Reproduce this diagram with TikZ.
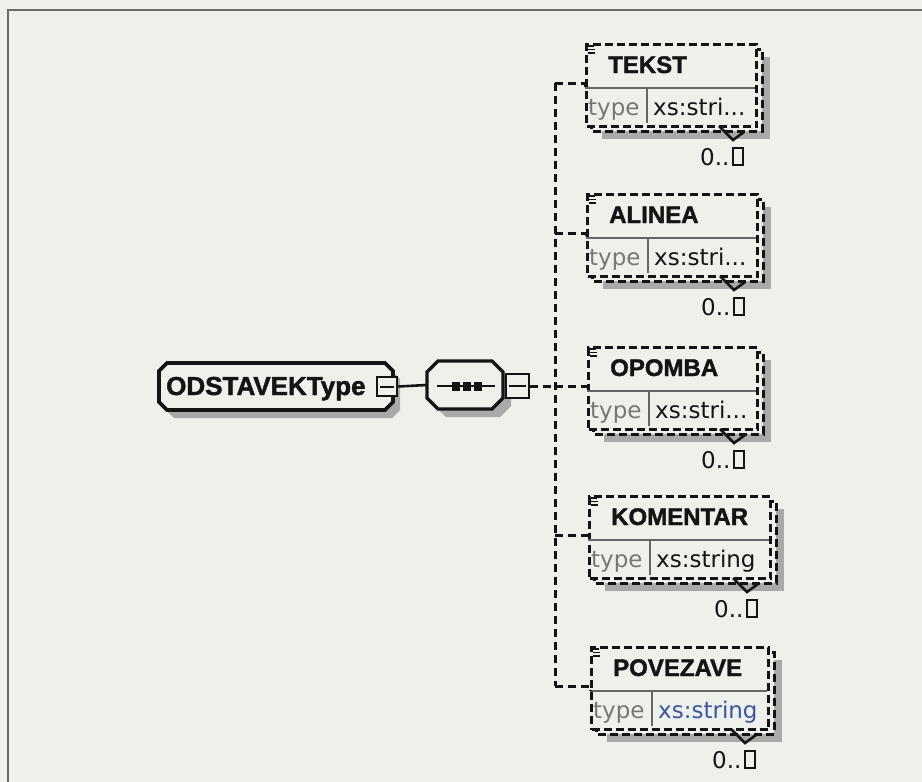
\documentclass[tikz,border=0pt]{standalone}
\usepackage{fontspec}
\setmainfont{Liberation Sans}[BoldFeatures={FakeBold=1.6}]
\newfontfamily\dvfont{DejaVu Sans}
\definecolor{bgc}{HTML}{EEF0EA}
\definecolor{shadowc}{HTML}{A8AAA7}
\definecolor{framec}{HTML}{6A6C69}
\definecolor{typegray}{HTML}{767876}
\definecolor{typeblue}{HTML}{3A55A8}
\definecolor{inkc}{HTML}{141414}

% octagon: #1 options, #2 x1, #3 y1, #4 x2, #5 y2, #6 chamfer
\newcommand\octo[6]{%
  \path[#1] (#2+#6,#3) -- (#4-#6,#3) -- (#4,#3+#6) -- (#4,#5-#6) -- (#4-#6,#5)
    -- (#2+#6,#5) -- (#2,#5-#6) -- (#2,#3+#6) -- cycle;
}

% #1 id, #2 left, #3 top, #4 width, #5 name, #6 type text, #7 type colour
\newcommand\elbox[7]{%
  \fill[shadowc] (#2+17,#3+14) rectangle (#2+#4+15,#3+96);
  \draw[dashbox, fill=bgc] (#2+6,#3+6) rectangle (#2+#4+7,#3+88);
  \node[frontbox, minimum width=#4pt, minimum height=82pt, anchor=north west] (#1) at (#2,#3) {};
  \draw[icon] (#2+3,#3+3) -- (#2+9,#3+3);
  \draw[icon] (#2+3,#3+6.5) -- (#2+10,#3+6.5);
  \draw[icon] (#2+3,#3+10) -- (#2+10,#3+10);
  \node[namefont, anchor=base west] (#1-name) at (#2+23,#3+30) {#5};
  \draw[sepline] (#2,#3+45) -- (#2+#4,#3+45);
  \draw[sepline] (#2+62,#3+45) -- (#2+62,#3+80);
  \node[typefont, text=typegray, anchor=base west] (#1-tlabel) at (#2+3,#3+72) {type};
  \node[typefont, text=#7, anchor=base west] (#1-tval) at (#2+68,#3+72) {#6};
  \draw[chev] (#2+#4-36,#3+83) -- (#2+#4-22,#3+97) -- (#2+#4-11,#3+89);
  \node[typefont, text=inkc, anchor=base west] (#1-occ) at (#2+#4-55,#3+122) {0..};
  \draw[occbox] ([xshift=3pt]#1-occ.base east) rectangle ++(10,-17);
  \coordinate (#1-in) at (#2,#3+40);
  \coordinate (#1-j) at (555,#3+40);
  \draw[conn] (#1-j) -- (#1-in) -- ++(0,5);
}

\begin{document}
\begin{tikzpicture}[x=1pt,y=-1pt,
  dashbox/.style={draw=inkc, line width=3pt, dash pattern=on 8pt off 4pt},
  frontbox/.style={rectangle, draw=inkc, fill=bgc, line width=3pt, dash pattern=on 8pt off 4pt, inner sep=0pt},
  conn/.style={draw=inkc, line width=3pt, dash pattern=on 8pt off 5pt},
  solidconn/.style={draw=inkc, line width=2.6pt},
  sepline/.style={draw=black!60, line width=2.2pt},
  icon/.style={draw=inkc, line width=1.5pt},
  chev/.style={draw=inkc, line width=2.6pt},
  occbox/.style={draw=inkc, line width=2pt},
  namefont/.style={font=\fontsize{24}{24}\selectfont\bfseries, text=inkc, inner sep=0pt},
  typefont/.style={font=\dvfont\fontsize{23}{23}\selectfont, inner sep=0pt},
  minusbox/.style={rectangle, draw=inkc, fill=bgc, line width=2.6pt, inner sep=0pt},
  anchorbox/.style={rectangle, inner sep=0pt}
]
\useasboundingbox (0,0) rectangle (922,782);
\fill[bgc] (0,0) rectangle (922,782);
\draw[framec, line width=1.8pt] (8,782) -- (8,10) -- (922,10);

% spine of the sequence
\coordinate (spinetop) at (555,83);
\coordinate (spinebot) at (555,686);
\coordinate (spinemid) at (555,386);
\draw[conn] (spinetop) -- (spinebot);

% element boxes
\elbox{tekst}{585}{43}{170}{TEKST}{xs:stri...}{inkc}
\elbox{alinea}{586}{193}{170}{ALINEA}{xs:stri...}{inkc}
\elbox{opomba}{587}{346}{169}{OPOMBA}{xs:stri...}{inkc}
\elbox{komentar}{588}{495}{181}{KOMENTAR}{xs:string}{inkc}
\elbox{povezave}{590}{646}{177}{POVEZAVE}{xs:string}{typeblue}

% ODSTAVEKType
\octo{fill=shadowc}{166}{371}{400}{418}{8}
\octo{draw=inkc, fill=bgc, line width=3.8pt, line join=miter}{159}{363}{393}{410}{8}
\node[anchor=base west, font=\fontsize{26}{26}\selectfont\bfseries, text=inkc, inner sep=0pt]
  (odst) at (166,395) {ODSTAVEKType};
\node[minusbox, minimum width=20pt, minimum height=19pt] (om) at (387,386.5) {};
\draw[line width=2pt, inkc] ([xshift=4pt]om.west) -- ([xshift=-4pt]om.east);

% sequence compositor
\octo{fill=shadowc}{435}{369}{511}{417}{11}
\octo{draw=inkc, fill=bgc, line width=3.2pt}{427}{361}{503}{409}{11}
\node[anchorbox, minimum width=76pt, minimum height=48pt] (seq) at (465,385) {};
\draw[line width=2.4pt, inkc] (437,386) -- (495,386);
\fill[inkc] (452,381.5) rectangle (460,390.5);
\fill[inkc] (463,381.5) rectangle (471,390.5);
\fill[inkc] (474,381.5) rectangle (482,390.5);
\node[minusbox, minimum width=23pt, minimum height=24pt] (sm) at (517.5,386) {};
\draw[line width=2pt, inkc] ([xshift=4pt]sm.west) -- ([xshift=-4pt]sm.east);

% connectors
\draw[solidconn] (om.east) -- (seq.west);
\draw[conn] (sm.east) -- (spinemid);
\end{tikzpicture}
\end{document}
